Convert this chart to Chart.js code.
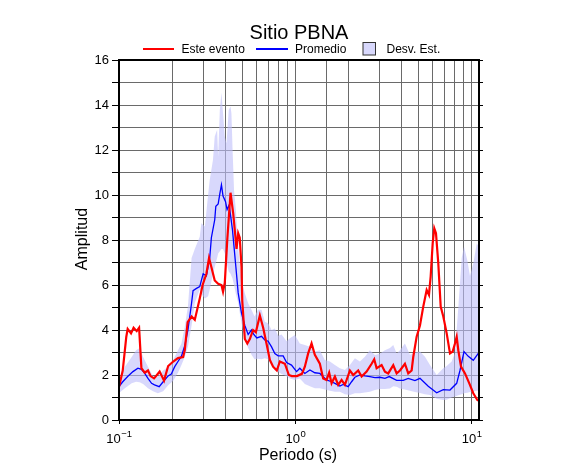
<!DOCTYPE html>
<html>
<head>
<meta charset="utf-8">
<script src="https://cdn.jsdelivr.net/npm/chart.js@4/dist/chart.umd.min.js"></script>
<style>body{margin:0;background:#fff}</style>
</head>
<body>
<canvas id="chart" width="586" height="475"></canvas>
<script>
// Este evento (periodo s, amplitud)
const redPeriods = [0.100, 0.105, 0.110, 0.112, 0.117, 0.121, 0.126, 0.130, 0.134, 0.140, 0.146, 0.151, 0.158, 0.164, 0.170, 0.175, 0.180, 0.190, 0.203, 0.216, 0.231, 0.236, 0.245, 0.258, 0.269, 0.287, 0.298, 0.313, 0.324, 0.334, 0.349, 0.365, 0.381, 0.389, 0.398, 0.411, 0.429, 0.444, 0.454, 0.464, 0.474, 0.484, 0.495, 0.500, 0.517, 0.534, 0.552, 0.576, 0.597, 0.629, 0.657, 0.686, 0.717, 0.748, 0.785, 0.817, 0.872, 0.919, 0.955, 1.020, 1.089, 1.132, 1.182, 1.236, 1.290, 1.377, 1.438, 1.503, 1.555, 1.605, 1.676, 1.750, 1.829, 1.910, 2.039, 2.128, 2.272, 2.376, 2.536, 2.707, 2.801, 2.889, 3.084, 3.221, 3.363, 3.591, 3.753, 3.919, 4.182, 4.367, 4.565, 4.662, 4.873, 5.089, 5.313, 5.554, 5.724, 5.852, 6.008, 6.134, 6.272, 6.465, 6.671, 6.901, 7.214, 7.532, 7.801, 8.038, 8.219, 8.395, 8.696, 9.162, 9.692, 10.21, 10.76, 11.0];
const redAmp = [1.47, 2.2, 3.7, 4.05, 3.85, 4.1, 3.95, 4.1, 2.3, 2.1, 2.2, 1.95, 1.85, 2.0, 2.15, 1.95, 1.75, 2.4, 2.6, 2.75, 2.8, 3.1, 4.35, 4.6, 4.45, 5.4, 6.0, 6.5, 7.2, 6.8, 6.2, 6.05, 6.0, 5.7, 6.1, 8.0, 10.1, 9.2, 8.4, 7.6, 8.3, 8.1, 6.8, 5.3, 3.6, 3.4, 3.6, 4.0, 3.9, 4.65, 4.1, 3.4, 2.67, 2.37, 2.2, 2.6, 2.5, 2.0, 1.95, 1.95, 2.05, 2.37, 2.96, 3.4, 2.9, 2.5, 1.85, 1.78, 2.1, 1.63, 1.93, 1.56, 1.78, 1.56, 2.2, 2.0, 2.2, 1.93, 2.15, 2.5, 2.7, 2.3, 2.44, 2.15, 2.07, 2.44, 2.07, 2.2, 2.5, 2.07, 2.2, 2.8, 3.7, 4.2, 5.04, 5.78, 5.56, 6.37, 7.85, 8.52, 8.3, 6.96, 5.04, 4.6, 3.85, 2.96, 3.04, 3.4, 3.7, 3.1, 2.37, 2.07, 1.63, 1.19, 0.89, 0.85];

// Promedio
const bluePeriods = [0.100, 0.105, 0.112, 0.120, 0.128, 0.134, 0.140, 0.146, 0.153, 0.159, 0.169, 0.178, 0.190, 0.198, 0.207, 0.216, 0.226, 0.236, 0.246, 0.258, 0.263, 0.275, 0.287, 0.300, 0.313, 0.327, 0.334, 0.349, 0.354, 0.365, 0.373, 0.381, 0.389, 0.402, 0.410, 0.421, 0.430, 0.440, 0.449, 0.460, 0.474, 0.495, 0.517, 0.540, 0.564, 0.581, 0.605, 0.643, 0.671, 0.701, 0.733, 0.765, 0.799, 0.853, 0.892, 0.951, 1.016, 1.060, 1.132, 1.209, 1.290, 1.377, 1.503, 1.605, 1.676, 1.789, 1.867, 1.993, 2.084, 2.176, 2.323, 2.480, 2.647, 2.827, 3.017, 3.221, 3.407, 3.753, 4.091, 4.367, 4.766, 5.089, 5.671, 6.330, 6.901, 7.532, 8.219, 8.58, 9.045, 9.565, 10.21, 11.0];
const blueAmp = [1.48, 1.7, 1.93, 2.15, 2.3, 2.25, 2.07, 1.85, 1.63, 1.56, 1.48, 1.7, 1.96, 2.04, 2.37, 2.6, 2.84, 3.3, 4.0, 5.2, 5.75, 5.85, 5.93, 6.5, 6.4, 7.2, 8.1, 8.9, 9.5, 9.6, 10.05, 10.45, 9.95, 9.7, 9.35, 9.55, 9.05, 8.45, 7.7, 6.8, 5.65, 4.75, 4.2, 3.8, 4.0, 3.8, 3.65, 3.72, 3.56, 3.5, 3.25, 2.95, 2.85, 2.85, 2.55, 2.44, 2.15, 2.3, 2.07, 2.22, 2.1, 2.07, 1.78, 1.7, 1.63, 1.51, 1.58, 1.48, 1.7, 1.9, 2.0, 1.96, 1.93, 1.88, 1.9, 1.85, 1.93, 1.76, 1.76, 1.85, 1.75, 1.85, 1.5, 1.21, 1.35, 1.33, 1.63, 2.2, 3.04, 2.83, 2.65, 3.0];

// Desv. Est. (banda)
const bandPeriods = [0.100, 0.108, 0.118, 0.125, 0.131, 0.137, 0.146, 0.156, 0.166, 0.178, 0.190, 0.203, 0.216, 0.226, 0.236, 0.246, 0.258, 0.269, 0.287, 0.293, 0.307, 0.320, 0.327, 0.341, 0.349, 0.360, 0.365, 0.373, 0.381, 0.389, 0.398, 0.407, 0.419, 0.429, 0.434, 0.440, 0.449, 0.460, 0.474, 0.495, 0.517, 0.540, 0.564, 0.587, 0.614, 0.643, 0.671, 0.701, 0.733, 0.765, 0.799, 0.835, 0.892, 0.931, 0.994, 1.060, 1.132, 1.209, 1.290, 1.377, 1.470, 1.570, 1.676, 1.789, 1.910, 2.039, 2.176, 2.323, 2.480, 2.647, 2.827, 3.017, 3.221, 3.439, 3.591, 3.753, 3.919, 4.182, 4.465, 4.766, 5.089, 5.433, 5.800, 6.330, 6.901, 7.214, 7.70, 8.038, 8.395, 8.775, 9.045, 9.441, 9.779, 10.21, 10.68, 11.0];
const bandUpper = [1.75, 2.37, 2.8, 3.1, 3.2, 2.8, 2.37, 1.93, 1.93, 2.2, 2.37, 2.67, 3.1, 3.4, 4.15, 5.04, 7.2, 7.6, 8.15, 8.74, 8.6, 10.0, 10.67, 11.56, 12.6, 12.9, 11.7, 13.78, 14.55, 13.63, 12.6, 12.3, 13.78, 13.93, 13.63, 12.15, 10.22, 9.33, 7.6, 6.2, 5.63, 5.19, 4.9, 4.6, 4.9, 4.9, 4.37, 4.3, 4.0, 4.07, 3.75, 3.8, 3.5, 3.63, 3.78, 3.4, 3.33, 3.26, 3.04, 3.1, 2.67, 2.6, 2.44, 2.3, 2.22, 2.44, 2.74, 2.6, 2.81, 3.1, 2.89, 2.96, 3.1, 3.2, 3.33, 2.96, 3.1, 3.4, 2.9, 3.0, 3.05, 2.81, 2.44, 2.0, 2.3, 2.4, 2.6, 3.0, 5.0, 7.2, 7.7, 7.1, 6.4, 6.96, 7.85, 7.7];
const bandLower = [1.2, 1.41, 1.63, 1.7, 1.68, 1.6, 1.41, 1.28, 1.19, 1.28, 1.55, 1.75, 2.1, 2.44, 2.8, 3.26, 4.2, 5.2, 5.8, 5.6, 5.4, 5.5, 5.8, 6.5, 6.8, 7.2, 7.4, 7.5, 7.6, 7.6, 7.4, 7.0, 6.6, 6.5, 6.4, 6.3, 6.0, 5.6, 5.2, 4.3, 3.6, 3.2, 2.9, 2.7, 2.72, 2.7, 2.75, 2.7, 2.4, 2.2, 2.15, 2.05, 1.95, 1.85, 1.78, 1.85, 1.6, 1.5, 1.41, 1.41, 1.36, 1.3, 1.26, 1.26, 1.15, 1.11, 1.19, 1.19, 1.22, 1.26, 1.33, 1.38, 1.38, 1.4, 1.5, 1.48, 1.4, 1.36, 1.3, 1.25, 1.2, 1.15, 1.11, 0.95, 0.89, 0.9, 1.0, 1.05, 1.1, 1.15, 1.19, 1.21, 1.24, 1.27, 1.3, 1.3];

// x tick labels (decades) drawn as 10 with a raised exponent
const decadeTicks = [0.1, 1, 10];
const decadeExps = ['\u22121', '0', '1'];

const FONT = '"Liberation Sans", Arial, Helvetica, sans-serif';
const toPoints = (xs, ys) => xs.map((x, i) => ({ x: x, y: ys[i] }));
const isDecade = v => Math.abs(Math.log10(v) - Math.round(Math.log10(v))) < 1e-6;

// title, legend, axis titles, decade labels and the frame
const decorations = {
  id: 'decorations',
  afterDraw(chart) {
    const ctx = chart.ctx;
    const a = chart.chartArea;
    ctx.save();
    ctx.strokeStyle = '#000';
    ctx.lineWidth = 2;
    ctx.strokeRect(a.left, a.top, a.right - a.left, a.bottom - a.top);

    ctx.fillStyle = '#000';
    ctx.textBaseline = 'alphabetic';
    ctx.textAlign = 'center';
    ctx.font = '20px ' + FONT;
    ctx.fillText('Sitio PBNA', 299, 39);

    // legend
    ctx.font = '12px ' + FONT;
    ctx.textAlign = 'left';
    ctx.lineWidth = 2;
    ctx.strokeStyle = '#ff0000';
    ctx.beginPath(); ctx.moveTo(143, 49); ctx.lineTo(174, 49); ctx.stroke();
    ctx.fillText('Este evento', 181.5, 52.5);
    ctx.strokeStyle = '#0000ff';
    ctx.beginPath(); ctx.moveTo(256, 49); ctx.lineTo(288, 49); ctx.stroke();
    ctx.fillText('Promedio', 295, 52.5);
    ctx.fillStyle = 'rgb(216,216,252)';
    ctx.fillRect(363, 42.5, 12.5, 12.5);
    ctx.lineWidth = 1;
    ctx.strokeStyle = '#333';
    ctx.strokeRect(363, 42.5, 12.5, 12.5);
    ctx.fillStyle = '#000';
    ctx.fillText('Desv. Est.', 386.5, 52.5);

    // decade tick labels
    const xs = chart.scales.x;
    decadeTicks.forEach((v, i) => {
      const px = xs.getPixelForValue(v);
      ctx.font = '13px ' + FONT;
      const wBase = ctx.measureText('10').width;
      ctx.font = '9.5px ' + FONT;
      const wExp = ctx.measureText(decadeExps[i]).width;
      const left = px - (wBase + wExp) / 2;
      ctx.font = '13px ' + FONT;
      ctx.fillText('10', left, 442.5);
      ctx.font = '9.5px ' + FONT;
      ctx.fillText(decadeExps[i], left + wBase + 0.5, 437);
    });

    // axis titles
    ctx.font = '16px ' + FONT;
    ctx.textAlign = 'center';
    ctx.fillText('Periodo (s)', 298, 460);
    ctx.translate(87, 239);
    ctx.rotate(-Math.PI / 2);
    ctx.fillText('Amplitud', 0, 0);
    ctx.restore();
  }
};

new Chart(document.getElementById('chart'), {
  type: 'line',
  data: {
    datasets: [
      {
        label: 'Este evento',
        data: toPoints(redPeriods, redAmp),
        borderColor: '#ff0000',
        borderWidth: 2.2,
        pointRadius: 0,
        fill: false
      },
      {
        label: 'Promedio',
        data: toPoints(bluePeriods, blueAmp),
        borderColor: '#0000ff',
        borderWidth: 1.3,
        pointRadius: 0,
        fill: false
      },
      {
        label: 'Desv. Est.',
        data: toPoints(bandPeriods, bandUpper),
        borderWidth: 0,
        borderColor: 'rgba(0,0,0,0)',
        backgroundColor: 'rgba(190,190,250,0.6)',
        pointRadius: 0,
        fill: '+1'
      },
      {
        label: 'lower',
        data: toPoints(bandPeriods, bandLower),
        borderWidth: 0,
        borderColor: 'rgba(0,0,0,0)',
        pointRadius: 0,
        fill: false
      }
    ]
  },
  options: {
    responsive: false,
    animation: false,
    devicePixelRatio: 1,
    layout: { padding: { top: 60, left: 0, right: 0, bottom: 0 } },
    plugins: {
      legend: { display: false },
      title: { display: false },
      tooltip: { enabled: false }
    },
    scales: {
      x: {
        type: 'logarithmic',
        min: 0.1,
        max: 11,
        afterFit: scale => { scale.height = 55; },
        border: { display: false },
        grid: {
          color: '#6a6a6a',
          tickLength: 4,
          tickColor: ctx => (ctx.tick && isDecade(ctx.tick.value)) ? '#000' : 'rgba(0,0,0,0)'
        },
        ticks: {
          autoSkip: false,
          maxRotation: 0,
          padding: 8,
          callback: () => ''
        }
      },
      y: {
        min: 0,
        max: 16,
        afterFit: scale => { scale.width = 119; },
        border: { display: false },
        grid: { color: '#6a6a6a', tickLength: 7, tickColor: '#000' },
        ticks: {
          stepSize: 1,
          padding: 3,
          color: '#000',
          font: { family: FONT, size: 13 },
          callback: v => (v % 2 === 0) ? String(v) : ''
        }
      },
      yr: {
        position: 'right',
        min: 0,
        max: 16,
        afterFit: scale => { scale.width = 107; },
        border: { display: false },
        grid: { drawOnChartArea: false, tickLength: 4, tickColor: '#000' },
        ticks: { stepSize: 1, display: false }
      }
    }
  },
  plugins: [decorations]
});
</script>
</body>
</html>
